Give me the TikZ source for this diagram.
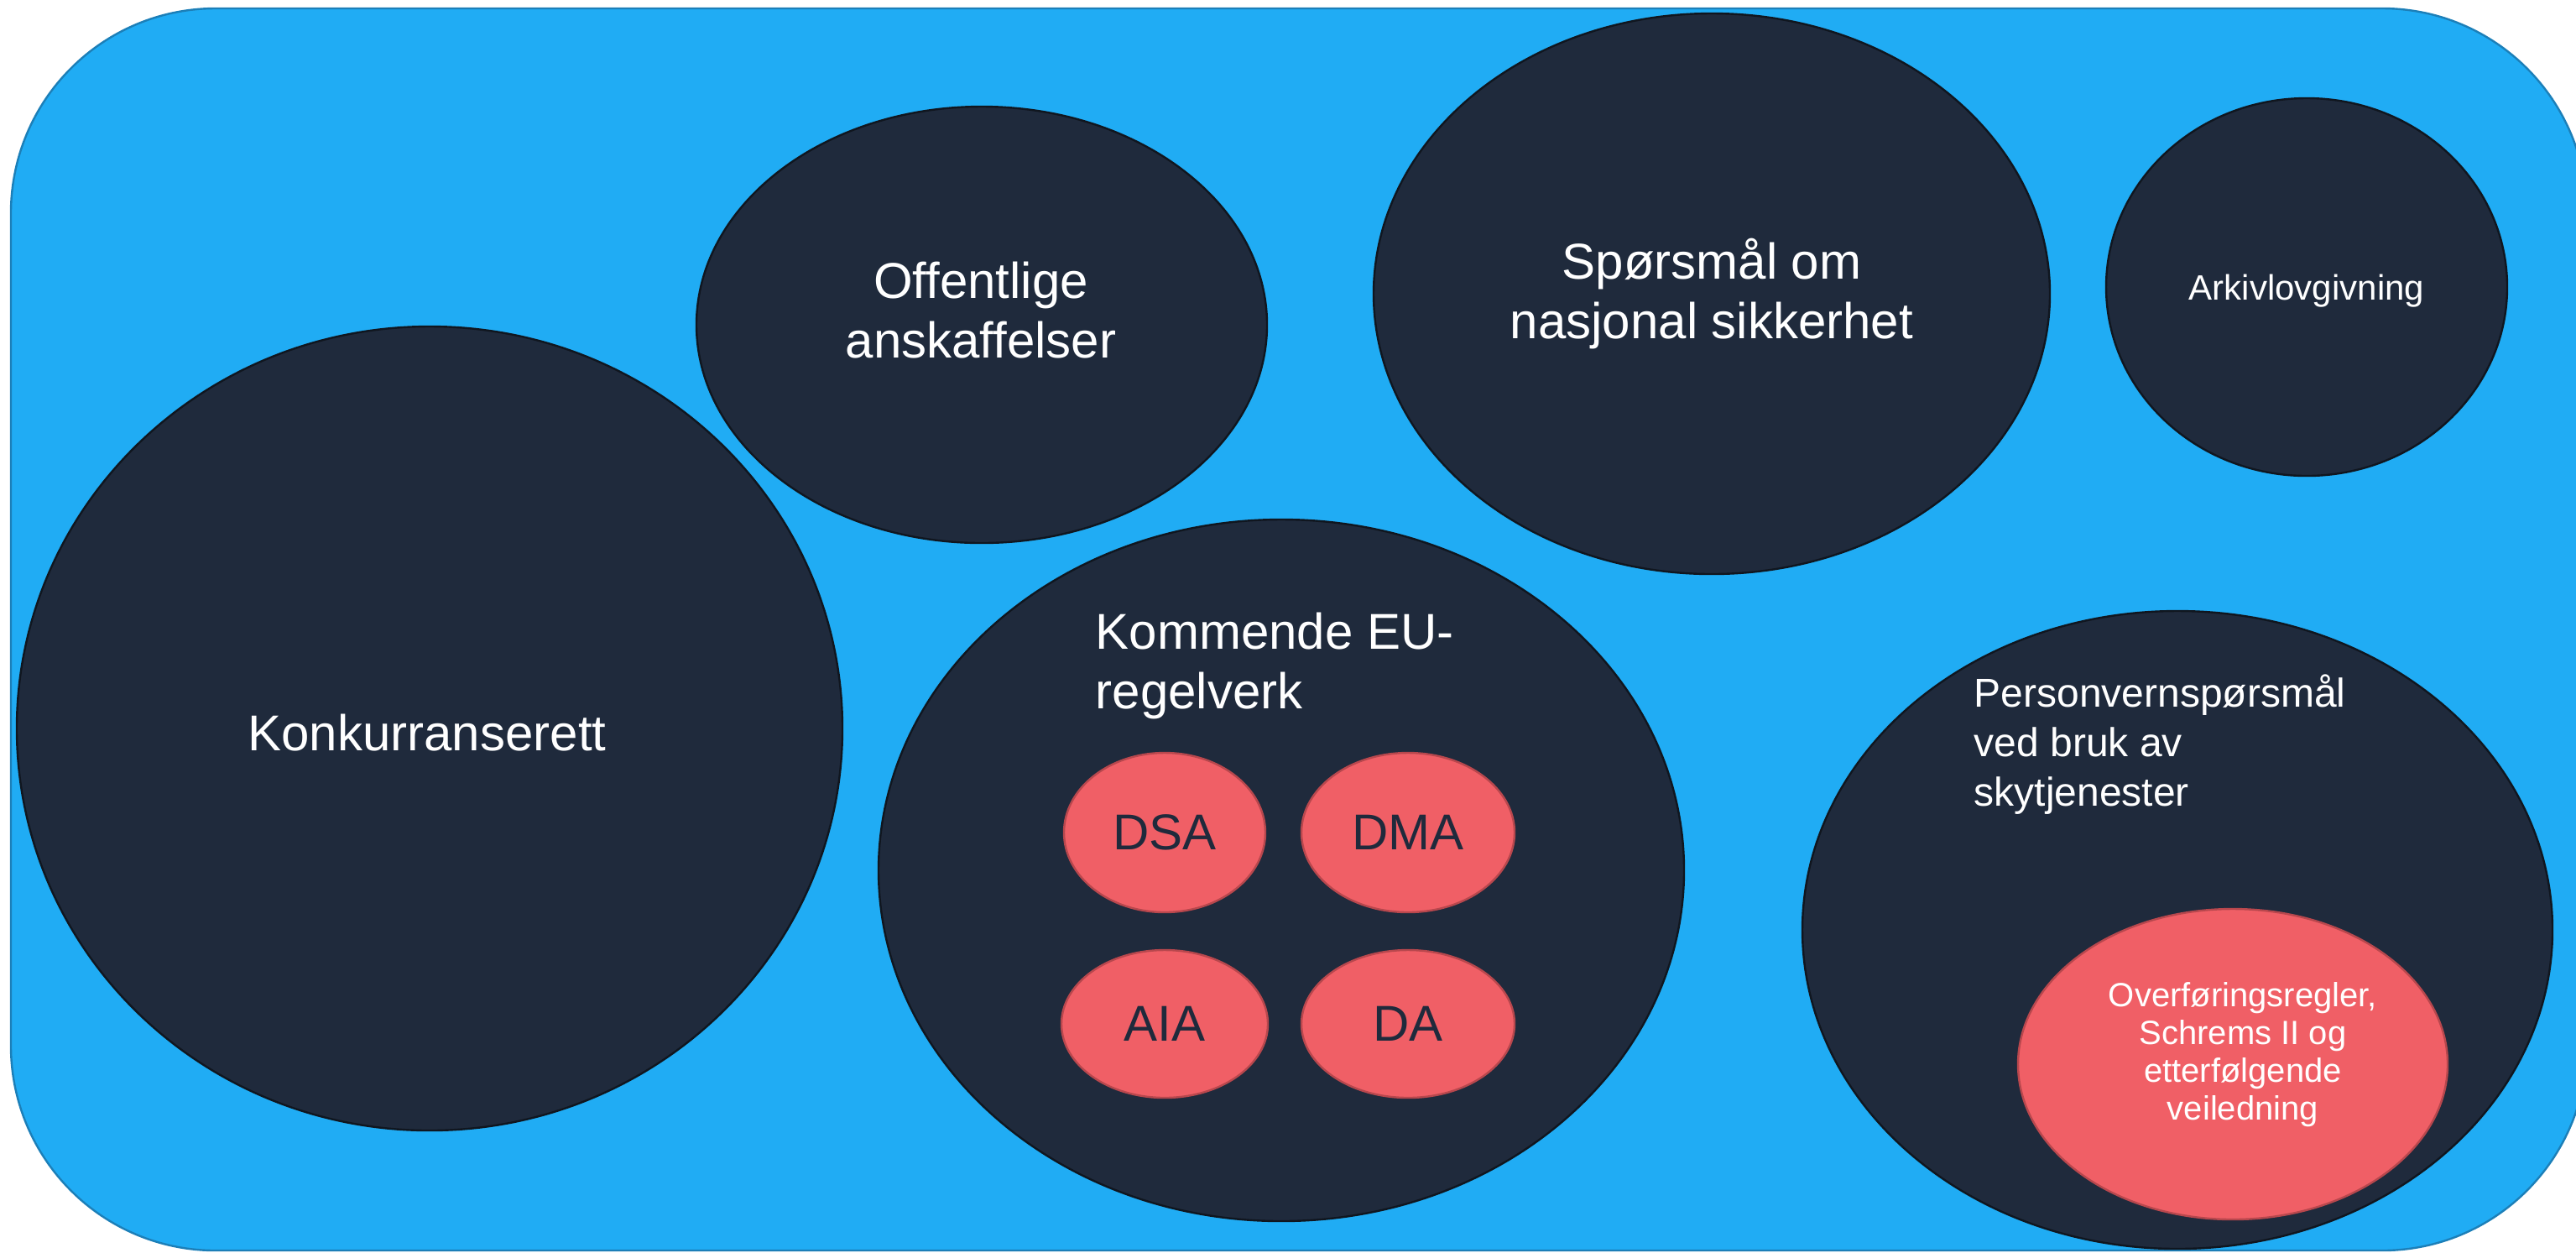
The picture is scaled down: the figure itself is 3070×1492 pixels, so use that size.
\documentclass[tikz,border=0pt]{standalone}
\usepackage{fontspec}
\setmainfont{Liberation Sans}
\usetikzlibrary{shapes.geometric}
\definecolor{bgblue}{HTML}{20ACF4}
\definecolor{bgedge}{HTML}{1C7FB8}
\definecolor{navy}{HTML}{1F2A3C}
\definecolor{navyedge}{HTML}{10161F}
\definecolor{coral}{HTML}{F05F66}
\definecolor{coraledge}{HTML}{B8474D}
\begin{document}
\begin{tikzpicture}[x=0.25pt,y=-0.25pt,
  blob/.style 2 args={ellipse, minimum width=#1*0.5pt, minimum height=#2*0.5pt, inner sep=0pt, outer sep=0pt},
  darkblob/.style={fill=navy, draw=navyedge, line width=0.6pt},
  redblob/.style={fill=coral, draw=coraledge, line width=0.6pt},
  lbl/.style={text=white, inner sep=0pt},
  big/.style={font=\fontsize{15}{17.75}\selectfont},
  acr/.style={redblob, text=navy, font=\fontsize{15}{18}\selectfont}
]
\useasboundingbox (0,0) rectangle (3070,1492);
\draw[fill=bgblue, draw=bgedge, line width=0.6pt, rounded corners=61pt] (13,10) rectangle (3083,1490);

\node[darkblob, blob={492}{479}] (konk) at (512,868) {};
\node[darkblob, blob={340}{260}] (off) at (1170,387) {};
\node[darkblob, blob={403}{334}] (spm) at (2040,350) {};
\node[darkblob, blob={239}{225}] (ark) at (2749,342) {};
\node[darkblob, blob={480}{418}] (eu) at (1527,1037) {};
\node[darkblob, blob={447}{380}] (pv) at (2595,1108) {};
\node[redblob, blob={256}{185}] (ovf) at (2661,1268) {};

\node[acr, blob={120}{95}] (dsa) at (1388,992) {DSA};
\node[acr, blob={127}{95}] (dma) at (1678,992) {DMA};
\node[acr, blob={123}{88}] (aia) at (1388,1220) {AIA};
\node[acr, blob={127}{88}] (da) at (1678,1220) {DA};

\node[lbl, big] (konkT) at (509,873) {Konkurranserett};
\node[lbl, big, align=center] (offT) at (1169,370) {Offentlige\\anskaffelser};
\node[lbl, big, align=center] (spmT) at (2040,350) {Spørsmål om\\nasjonal sikkerhet};
\node[lbl, font=\fontsize{10.5}{12}\selectfont] (arkT) at (2749,347) {Arkivlovgivning};
\node[lbl, big, align=left, anchor=north west] (euT) at (1305,729) {Kommende EU-\\regelverk};
\node[lbl, align=left, anchor=north west, font=\fontsize{12}{14.75}\selectfont] (pvT) at (2352,803) {Personvernspørsmål\\ved bruk av\\skytjenester};
\node[lbl, align=center, font=\fontsize{10}{11.25}\selectfont] (ovfT) at (2673,1257) {Overføringsregler,\\Schrems II og\\etterfølgende\\veiledning};
\end{tikzpicture}
\end{document}
